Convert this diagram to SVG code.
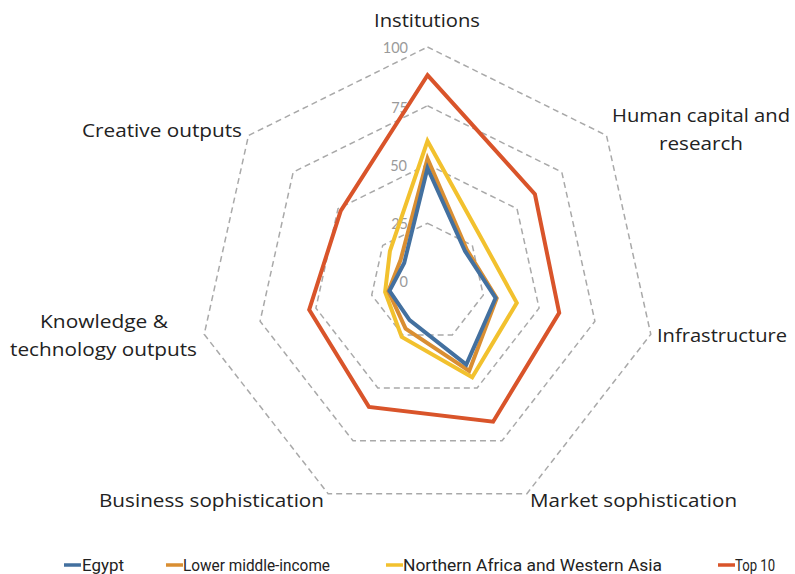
<svg xmlns="http://www.w3.org/2000/svg" width="795" height="574" viewBox="0 0 795 574">
<style>
.grid{fill:none;stroke:#a9a9a9;stroke-width:1.5;stroke-dasharray:6 4}
.ser{fill:none;stroke-width:4;stroke-linejoin:miter}
.lab{font-family:"Open Sans","Liberation Sans",sans-serif;font-size:19px;fill:#222}
.tick{font-family:Lato,"Liberation Sans",sans-serif;font-size:14.5px;fill:#9a9a9a;text-anchor:end}
.leg{font-family:Roboto,"Liberation Sans",sans-serif;font-size:17px;fill:#222}
</style>
<rect width="795" height="574" fill="#fff"/>
<g id="grid">
<polygon class="grid" points="427.5,47 606.5,135.5 650.8,334.3 526.9,493.7 328.1,493.7 204.2,334.3 248.5,135.5"/>
<polygon class="grid" points="427.5,105.75 561.8,172.1 594.9,321.2 502,440.8 353,440.8 260.1,321.2 293.2,172.1"/>
<polygon class="grid" points="427.5,164.5 517,208.7 539.1,308.1 477.2,387.9 377.8,387.9 315.9,308.1 338,208.7"/>
<polygon class="grid" points="427.5,223.25 472.3,245.4 483.3,295.1 452.3,334.9 402.7,334.9 371.7,295.1 382.7,245.4"/>
</g>
<g id="ticks">
<text class="tick" x="408" y="53">100</text>
<text class="tick" x="408" y="113">75</text>
<text class="tick" x="407" y="171">50</text>
<text class="tick" x="408" y="229">25</text>
<text class="tick" x="408" y="287">0</text>
</g>
<g id="series">
<polygon id="top10" class="ser" stroke="#d9542a" points="427.5,75.2 534.9,194.1 559.2,312.9 493.1,421.7 368.9,406.9 309.2,309.7 340.7,210.9"/>
<polygon id="nawa" class="ser" stroke="#f2c12e" points="427.5,141 481.2,238 516.8,302.9 472.2,377.3 401.7,337 385.1,291.9 389.9,251.2"/>
<polygon id="lmi" class="ser" stroke="#d98e32" points="427.5,158.6 466.9,249.8 496.7,298.2 469.2,370.9 405.6,328.6 388.4,291.2 400.6,260"/>
<polygon id="egypt" class="ser" stroke="#43709f" points="427.5,168 465.1,251.2 495.6,298 466.3,364.6 409.6,320.1 389.5,290.9 404.2,263"/>
</g>
<g id="labels">
<text class="lab" x="374" y="27" textLength="106" lengthAdjust="spacingAndGlyphs">Institutions</text>
<text class="lab" x="612" y="122" textLength="178" lengthAdjust="spacingAndGlyphs">Human capital and</text>
<text class="lab" x="659" y="150" textLength="84" lengthAdjust="spacingAndGlyphs">research</text>
<text class="lab" x="657" y="342" textLength="130" lengthAdjust="spacingAndGlyphs">Infrastructure</text>
<text class="lab" x="530" y="507" textLength="207" lengthAdjust="spacingAndGlyphs">Market sophistication</text>
<text class="lab" x="99" y="507" textLength="225" lengthAdjust="spacingAndGlyphs">Business sophistication</text>
<text class="lab" x="40" y="328" textLength="128" lengthAdjust="spacingAndGlyphs">Knowledge &amp;</text>
<text class="lab" x="10" y="356" textLength="187" lengthAdjust="spacingAndGlyphs">technology outputs</text>
<text class="lab" x="82" y="137" textLength="160" lengthAdjust="spacingAndGlyphs">Creative outputs</text>
</g>
<g id="legend">
<line x1="64" y1="565" x2="81" y2="565" stroke="#43709f" stroke-width="3.5"/>
<text class="leg" x="82" y="571" textLength="42" lengthAdjust="spacingAndGlyphs">Egypt</text>
<line x1="166" y1="565" x2="183" y2="565" stroke="#d98e32" stroke-width="3.5"/>
<text class="leg" x="183" y="571" textLength="147" lengthAdjust="spacingAndGlyphs">Lower middle-income</text>
<line x1="386" y1="565" x2="403" y2="565" stroke="#f2c12e" stroke-width="3.5"/>
<text class="leg" x="403" y="571" textLength="259" lengthAdjust="spacingAndGlyphs">Northern Africa and Western Asia</text>
<line x1="718" y1="565" x2="735" y2="565" stroke="#d9542a" stroke-width="3.5"/>
<text class="leg" x="735" y="571" textLength="40" lengthAdjust="spacingAndGlyphs">Top 10</text>
</g>
</svg>
